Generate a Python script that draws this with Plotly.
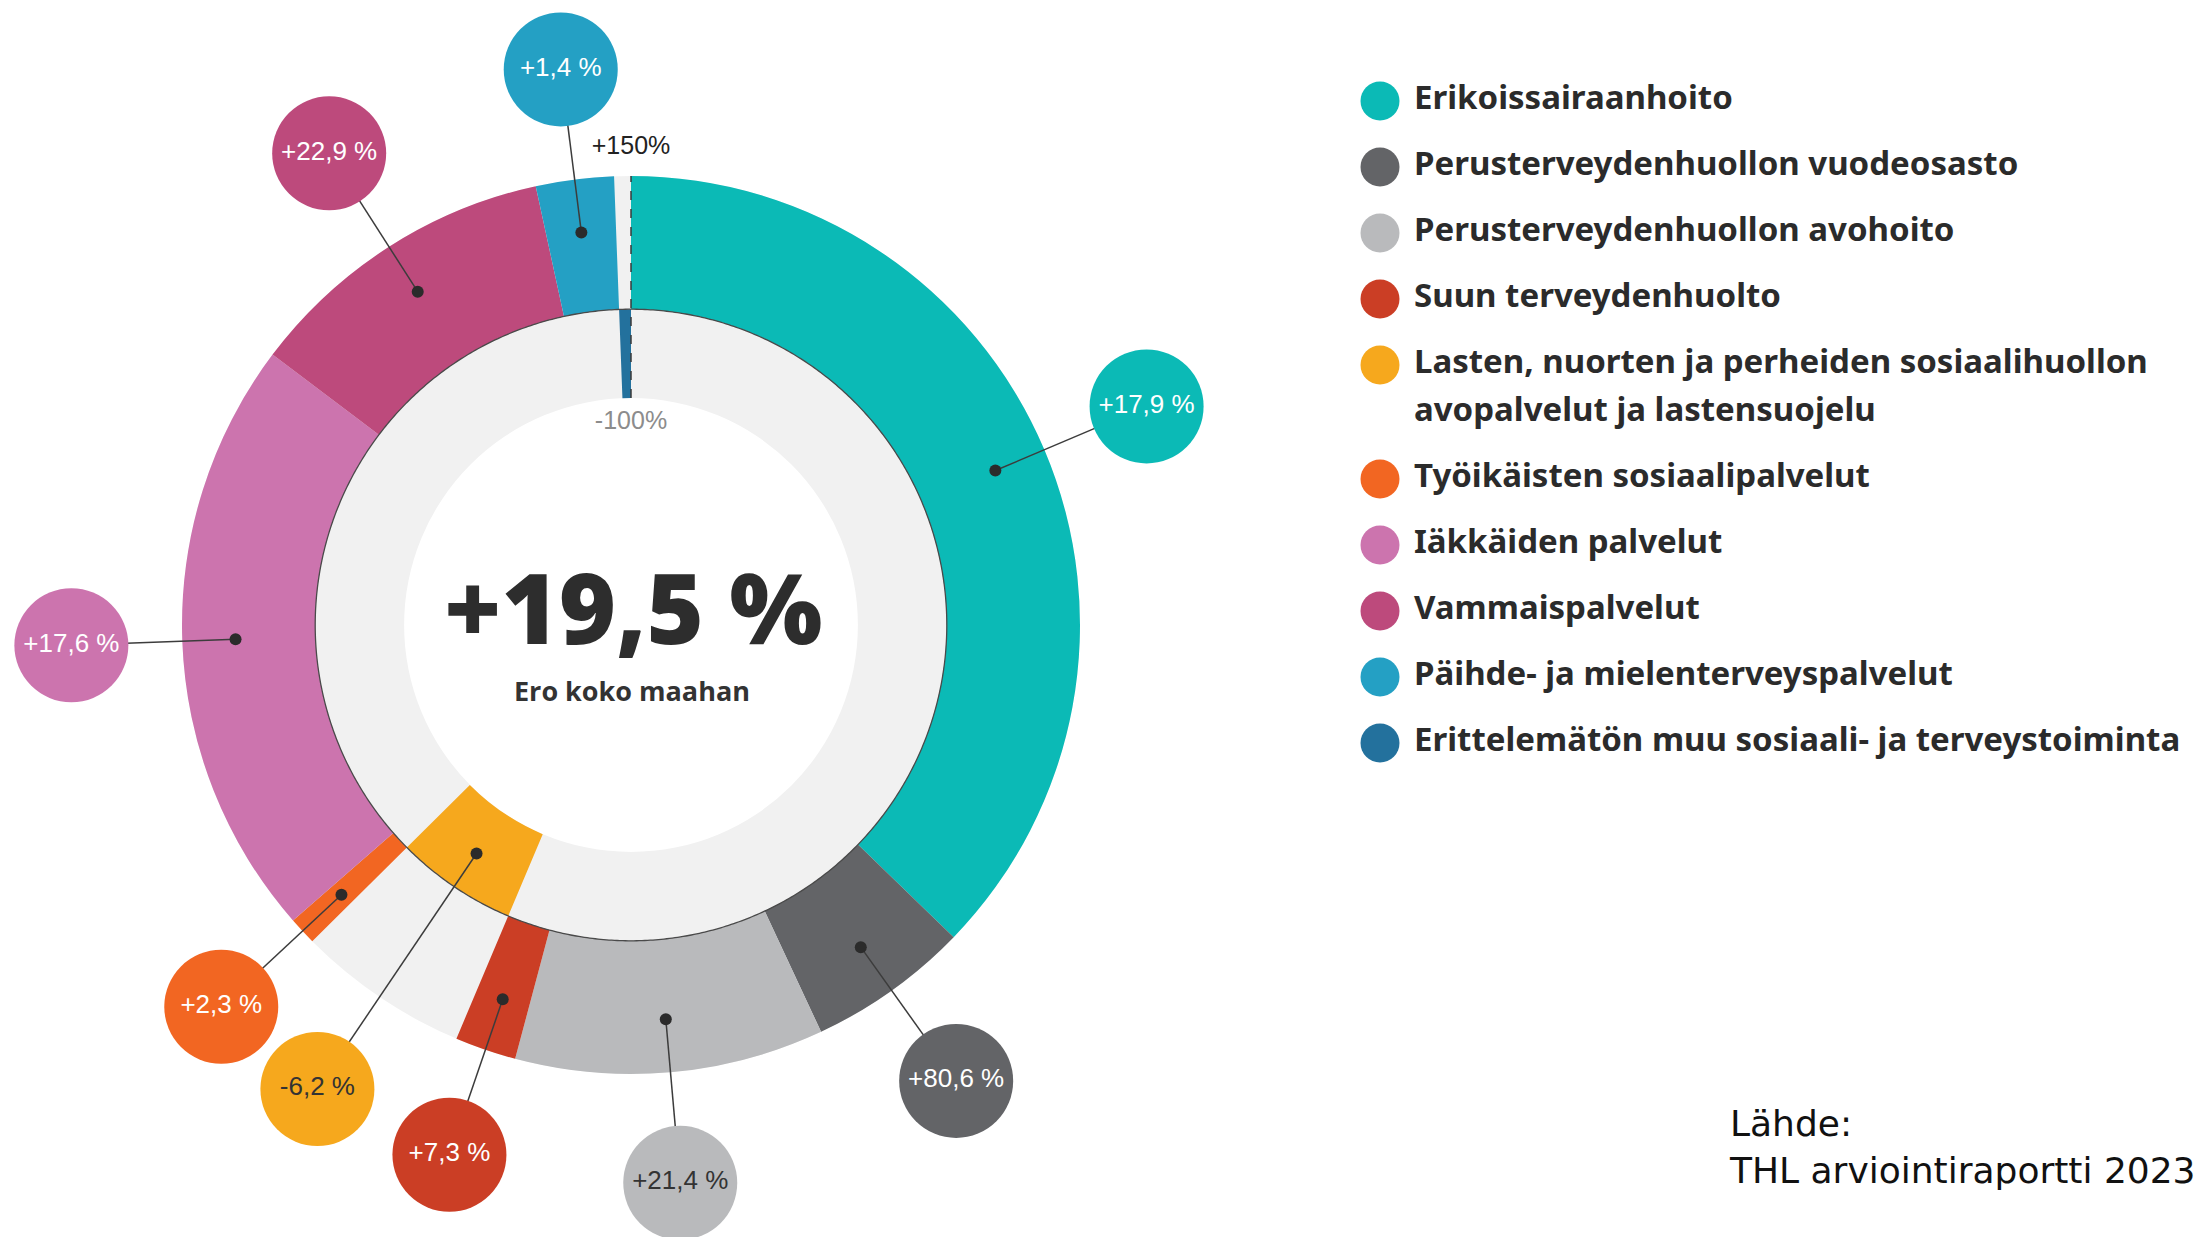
import numpy as np
import plotly.graph_objects as go

# ---------------- data ----------------
categories = [
    "Erikoissairaanhoito",
    "Perusterveydenhuollon vuodeosasto",
    "Perusterveydenhuollon avohoito",
    "Suun terveydenhuolto",
    "Lasten, nuorten ja perheiden sosiaalihuollon\navopalvelut ja lastensuojelu",
    "Työikäisten sosiaalipalvelut",
    "Iäkkäiden palvelut",
    "Vammaispalvelut",
    "Päihde- ja mielenterveyspalvelut",
    "Erittelemätön muu sosiaali- ja terveystoiminta",
]
# share of total spending (angular width of each slice), %
shares = [37.2, 5.8, 11.1, 2.2, 6.2, 1.0, 21.7, 11.3, 2.8, 0.6]
# difference to whole country, %
diff_values = [17.9, 80.6, 21.4, 7.3, -6.2, 2.3, 17.6, 22.9, 1.4, -100.0]
diff_labels = ["+17,9 %", "+80,6 %", "+21,4 %", "+7,3 %", "-6,2 %", "+2,3 %",
               "+17,6 %", "+22,9 %", "+1,4 %", None]
total_label = "+19,5 %"
total_caption = "Ero koko maahan"
axis_low, axis_high = -100, 150
axis_labels = ["-100%", "+150%"]
source_text = "Lähde:<br>THL arviointiraportti 2023"

# ---------------- styles ----------------
colors = ["#0bbab6", "#636467", "#b9babc", "#cb3e25", "#f6a81d",
          "#f26622", "#cc74ae", "#bd4a7c", "#24a0c4", "#23719d"]
label_text_colors = ["#ffffff", "#ffffff", "#333333", "#ffffff", "#333333",
                     "#ffffff", "#ffffff", "#ffffff", "#ffffff", "#ffffff"]
BAND = "#f1f1f1"
DARK = "#2b2b2b"

W, H = 2209, 1237
OFF = 8                    # browser page margin
CX, CY = 631, 625          # polar centre (screen px)
R_POL = 600                # polar outer radius (px)
PX_LOW, PX_HIGH = 227, 449 # radius of -100 % and +150 % rings (px)
k = (PX_HIGH - PX_LOW) / (axis_high - axis_low)
R_MAX = axis_high + (R_POL - PX_HIGH) / k
R_MIN = -160
hole_px = PX_LOW - (axis_low - R_MIN) * k
HOLE = hole_px / R_POL

DOT_POS, DOT_NEG = 90, -45
LABEL_R = 275
BUBBLE = 114

# ---------------- geometry from data ----------------
shares_a = np.array(shares, dtype=float)
widths = shares_a / shares_a.sum() * 360.0
ends = np.cumsum(widths)
mids = ends - widths / 2
extent = [axis_high if v > 0 else axis_low for v in diff_values]

fig = go.Figure()

# grey background band from -100 % to +150 %
fig.add_trace(go.Barpolar(
    r=[axis_high - axis_low] * 2, base=[axis_low] * 2, theta=[90, 270], width=[180, 180],
    marker=dict(color=BAND, line=dict(width=0)), hoverinfo="skip", showlegend=False,
    subplot="polar"))

# category slices
fig.add_trace(go.Barpolar(
    r=extent, base=[0] * len(extent), theta=mids, width=widths,
    marker=dict(color=colors, line=dict(width=0)), hoverinfo="skip", showlegend=False,
    subplot="polar"))

# baseline (0 %) circle
circ = np.linspace(0, 360, 721)
fig.add_trace(go.Scatterpolar(
    r=np.zeros_like(circ), theta=circ, mode="lines",
    line=dict(color="#4a4a4a", width=1.3), hoverinfo="skip", showlegend=False,
    subplot="polar"))

# dashed start line
fig.add_trace(go.Scatterpolar(
    r=[axis_low, axis_high], theta=[0, 0], mode="lines",
    line=dict(color="#3a3a3a", width=1.5, dash="dash"), hoverinfo="skip",
    showlegend=False, subplot="polar"))

# leader lines, dots, bubbles
lr, lt, dr, dt, br, bt, bc, btxt, btc = [], [], [], [], [], [], [], [], []
for i, lab in enumerate(diff_labels):
    if lab is None:
        continue
    d = DOT_POS if diff_values[i] > 0 else DOT_NEG
    lr += [d, LABEL_R, None]
    lt += [mids[i], mids[i], None]
    dr.append(d); dt.append(mids[i])
    br.append(LABEL_R); bt.append(mids[i]); bc.append(colors[i])
    btxt.append(lab); btc.append(label_text_colors[i])

fig.add_trace(go.Scatterpolar(
    r=lr, theta=lt, mode="lines", line=dict(color="#3c3c3c", width=1.5),
    hoverinfo="skip", showlegend=False, subplot="polar", cliponaxis=False))
fig.add_trace(go.Scatterpolar(
    r=dr, theta=dt, mode="markers", marker=dict(size=12, color=DARK),
    hoverinfo="skip", showlegend=False, subplot="polar", cliponaxis=False))
fig.add_trace(go.Scatterpolar(
    r=br, theta=bt, mode="markers+text", text=btxt, textposition="middle center",
    marker=dict(size=BUBBLE, color=bc, line=dict(width=0)),
    textfont=dict(family="Liberation Sans, Arial, sans-serif", size=26, color=btc),
    hoverinfo="skip", showlegend=False, subplot="polar", cliponaxis=False))

# axis end labels
fig.add_trace(go.Scatterpolar(
    r=[182, -128], theta=[0, 0], mode="text", text=[axis_labels[1], axis_labels[0]],
    textposition="middle center",
    textfont=dict(family="Liberation Sans, sans-serif", size=25,
                  color=["#222222", "#8c8c8c"]),
    hoverinfo="skip", showlegend=False, subplot="polar", cliponaxis=False))

# ---------------- legend (custom) ----------------
LEG_X, LEG_TX, LEG_Y0, LEG_GAP, LEG_LINE = 1380, 1414, 101, 66, 48
mx, my, tx, ty, tt = [], [], [], [], []
extra = 0
for i, name in enumerate(categories):
    lines = name.split("\n")
    y = LEG_Y0 + LEG_GAP * i + LEG_LINE * extra
    mx.append(LEG_X); my.append(y)
    for j, ln in enumerate(lines):
        tx.append(LEG_TX); ty.append(y + LEG_LINE * j); tt.append(ln)
    extra += len(lines) - 1

fig.add_trace(go.Scatter(
    x=mx, y=my, mode="markers", marker=dict(size=39, color=colors, line=dict(width=0)),
    hoverinfo="skip", showlegend=False, cliponaxis=False))
fig.add_trace(go.Scatter(
    x=tx, y=ty, mode="text", text=tt, textposition="middle right",
    textfont=dict(family="Noto Sans, sans-serif", size=33, color="#2b2b2b", weight=700),
    hoverinfo="skip", showlegend=False, cliponaxis=False))

# ---------------- layout ----------------
fig.update_layout(
    width=W, height=H, margin=dict(l=0, r=0, t=0, b=0),
    paper_bgcolor="white", plot_bgcolor="rgba(0,0,0,0)", showlegend=False,
    xaxis=dict(range=[OFF, W + OFF], visible=False, domain=[0, 1], fixedrange=True),
    yaxis=dict(range=[H + OFF, OFF], visible=False, domain=[0, 1], fixedrange=True),
    polar=dict(
        domain=dict(x=[(CX - OFF - R_POL) / W, (CX - OFF + R_POL) / W],
                    y=[1 - (CY - OFF + R_POL) / H, 1 - (CY - OFF - R_POL) / H]),
        hole=HOLE,
        bgcolor="rgba(0,0,0,0)",
        barmode="overlay",
        radialaxis=dict(range=[R_MIN, R_MAX], visible=False),
        angularaxis=dict(rotation=90, direction="clockwise", visible=False),
    ),
    annotations=[
        dict(x=CX + 2, y=606, xref="x", yref="y", text=total_label, showarrow=False,
             xanchor="center", yanchor="middle",
             font=dict(family="Open Sans, sans-serif", size=98, color="#2d2d2d", weight=800)),
        dict(x=CX + 1, y=690, xref="x", yref="y", text=total_caption, showarrow=False,
             xanchor="center", yanchor="middle",
             font=dict(family="Open Sans, sans-serif", size=27, color="#333333", weight=700)),
        dict(x=1727, y=1147, xref="x", yref="y", text=source_text, showarrow=False,
             xanchor="left", yanchor="middle", align="left",
             font=dict(family="DejaVu Sans, sans-serif", size=36, color="#111111")),
    ],
)

fig.write_html("out.html")
